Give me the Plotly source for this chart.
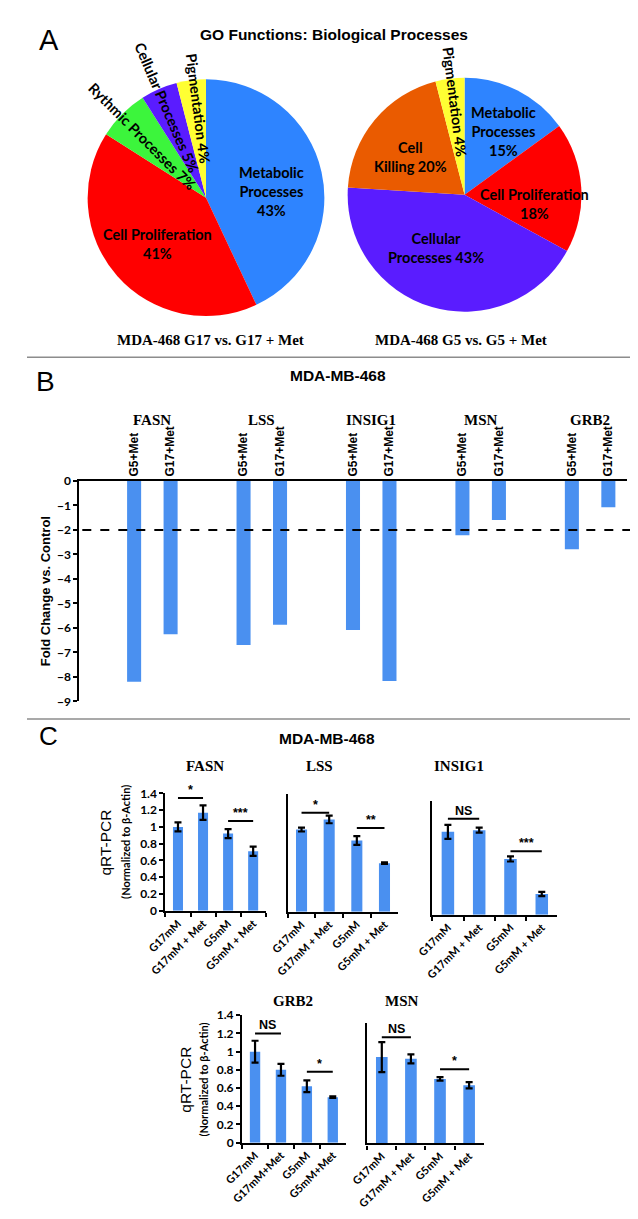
import math
import plotly.graph_objects as go

W, H = 638, 1219

# ---------------- Data ----------------
# Panel A: GO functions (percent)
pie_left_labels = ["Metabolic Processes", "Cell Proliferation", "Rythmic Processes",
                   "Cellular Processes", "Pigmentation"]
pie_left_values = [43, 41, 7, 5, 4]
pie_left_text = ["Metabolic<br>Processes<br>{}%", "Cell Proliferation<br>{}%",
                 "Rythmic Processes {}%", "Cellular Processes {}%", "Pigmentation {}%"]

pie_right_labels = ["Metabolic Processes", "Cell Proliferation", "Cellular Processes",
                    "Cell Killing", "Pigmentation"]
pie_right_values = [15, 18, 43, 20, 4]
pie_right_text = ["Metabolic<br>Processes<br>{}%", "Cell Proliferation<br>{}%",
                  "Cellular<br>Processes {}%", "Cell<br>Killing {}%", "Pigmentation {}%"]

pie_left_caption = "MDA-468 G17 vs. G17 + Met"
pie_right_caption = "MDA-468 G5 vs. G5 + Met"

# Panel B: fold change vs control
genes_b = ["FASN", "LSS", "INSIG1", "MSN", "GRB2"]
conds_b = ["G5+Met", "G17+Met"]
fold_g5 = [-8.20, -6.70, -6.08, -2.22, -2.79]
fold_g17 = [-6.26, -5.87, -8.16, -1.60, -1.07]
threshold_b = -2

# Panel C: qRT-PCR (normalized to beta-actin)
cats_c = ["G17mM", "G17mM + Met", "G5mM", "G5mM + Met"]
cats_c_grb2 = ["G17mM", "G17mM+Met", "G5mM", "G5mM+Met"]
fasn_mean = [1.00, 1.17, 0.92, 0.71]
fasn_err = [0.053, 0.087, 0.053, 0.055]
lss_mean = [0.98, 1.10, 0.85, 0.58]
lss_err = [0.023, 0.045, 0.053, 0.010]
insig1_mean = [0.98, 1.00, 0.66, 0.245]
insig1_err = [0.083, 0.030, 0.030, 0.025]
grb2_mean = [1.00, 0.80, 0.62, 0.50]
grb2_err = [0.12, 0.065, 0.065, 0.008]
msn_mean = [0.95, 0.93, 0.71, 0.64]
msn_err = [0.165, 0.05, 0.02, 0.035]

# significance: (bar i, bar j, level, label)
fasn_sig = [(0, 1, 1.345, "*"), (2, 3, 1.07, "***")]
lss_sig = [(0, 1, 1.18, "*"), (2, 3, 1.00, "**")]
insig1_sig = [(0, 1, 1.135, "NS"), (2, 3, 0.75, "***")]
grb2_sig = [(0, 1, 1.20, "NS"), (2, 3, 0.78, "*")]
msn_sig = [(0, 1, 1.167, "NS"), (2, 3, 0.817, "*")]

# ---------------- Styles ----------------
ARIAL = "Liberation Sans, Arial, sans-serif"
TIMES = "Liberation Serif, Times New Roman, serif"
CALIBRI = "Lato, Carlito, Calibri, sans-serif"
BAR = "#4A90F0"
slice_colors = {"Metabolic Processes": "#2E84FF", "Cell Proliferation": "#FF0000",
                "Rythmic Processes": "#3CF53C", "Cellular Processes": "#5A1CFF",
                "Pigmentation": "#FFFF33", "Cell Killing": "#EA5B00"}
# label placement per slice: (radial fraction, angular nudge in degrees)
left_label_place = [(0.556, 7.5), (0.56, -2.1), (0.74, -1.6), (0.82, -0.4), (0.74, 1.8)]
right_label_place = [(0.625, 4.8), (0.60, 10.7), (0.51, 12.6), (0.56, -5.1), (0.78, 1.1)]


def px(x):
    return x / W


def py(y):
    return 1 - y / H


def ann(text, x, y, size, family, bold=False, angle=0, xanchor="center", yanchor="middle"):
    return dict(text=text, x=px(x), y=py(y), xref="paper", yref="paper", showarrow=False,
                font=dict(size=size, family=family, color="black",
                          weight="bold" if bold else "normal"),
                textangle=angle, xanchor=xanchor, yanchor=yanchor)


fig = go.Figure()
annotations = []
shapes = []

# ---------------- Panel A ----------------
pies = [
    (pie_left_labels, pie_left_values, pie_left_text, left_label_place, (184.5, 184.0, 122.0)),
    (pie_right_labels, pie_right_values, pie_right_text, right_label_place, (451.0, 181.0, 120.5)),
]
for labels, values, texts, places, (cx, cy, R) in pies:
    fig.add_trace(go.Pie(
        labels=labels, values=values, sort=False, direction="clockwise", rotation=0,
        textinfo="none", hoverinfo="label+percent", showlegend=False,
        marker=dict(colors=[slice_colors[l] for l in labels], line=dict(width=0)),
        domain=dict(x=[px(cx - R), px(cx + R)], y=[py(cy + R), py(cy - R)]),
    ))
    total = sum(values)
    cum = 0
    for v, t, (frac, nudge) in zip(values, texts, places):
        mid = (cum + v / 2) / total * 360.0
        cum += v
        rad = math.radians(mid + nudge)
        ang = 90 + (mid - 360 if mid > 180 else mid) if v < 10 else 0
        lx = cx + frac * R * math.sin(rad)
        ly = cy - frac * R * math.cos(rad)
        annotations.append(ann(t.format(v), lx, ly, 14.5, CALIBRI, bold=True, angle=ang))

annotations.append(ann("A", 23, 24, 29, ARIAL))
annotations.append(ann("GO Functions: Biological Processes", 316.5, 19, 15.5, ARIAL, bold=True))
annotations.append(ann(pie_left_caption, 189, 328, 15, TIMES, bold=True))
annotations.append(ann(pie_right_caption, 447.5, 328, 15, TIMES, bold=True))

# separators
for ysep in (345.5, 711.7):
    shapes.append(dict(type="line", xref="paper", yref="paper", x0=0, x1=1,
                       y0=py(ysep), y1=py(ysep), line=dict(color="#8c8c8c", width=1.5)))

# ---------------- Panel B ----------------
xb_g5 = [3 * i + 1 for i in range(len(genes_b))]
xb_g17 = [3 * i + 2 for i in range(len(genes_b))]
for xs, ys, name in ((xb_g5, fold_g5, conds_b[0]), (xb_g17, fold_g17, conds_b[1])):
    fig.add_trace(go.Bar(x=xs, y=ys, name=name, width=0.385, marker=dict(color=BAR, line=dict(width=0)),
                         xaxis="x", yaxis="y", showlegend=False))

layout_axes = {}
layout_axes["xaxis"] = dict(domain=[px(54), px(618)], anchor="y", side="top", range=[-0.5, 14.5],
                            showline=True, linecolor="black", linewidth=2, ticks="",
                            tickvals=xb_g5 + xb_g17,
                            ticktext=[conds_b[0]] * len(genes_b) + [conds_b[1]] * len(genes_b),
                            tickangle=-90, tickfont=dict(family=ARIAL, size=12, color="black", weight="bold"),
                            showgrid=False, zeroline=False, fixedrange=True)
layout_axes["yaxis"] = dict(domain=[py(694), py(470.7)], anchor="x", range=[-9, 0], dtick=1,
                            showline=True, linecolor="black", linewidth=2, ticks="outside", ticklen=4,
                            tickwidth=2, tickcolor="black",
                            tickfont=dict(family=CALIBRI, size=12, color="black", weight="bold"),
                            showgrid=False, zeroline=False, fixedrange=True)
shapes.append(dict(type="line", xref="paper", yref="y", x0=px(57), x1=px(626),
                   y0=threshold_b, y1=threshold_b, line=dict(color="black", width=2, dash="dash")))
for i, g in enumerate(genes_b):
    annotations.append(dict(text=g, x=3 * i + 1.5, y=py(399), xref="x", yref="paper", showarrow=False,
                            font=dict(family=TIMES, size=15, color="black", weight="bold")))
annotations.append(ann("B", 19.5, 370, 28, ARIAL))
annotations.append(ann("MDA-MB-468", 321, 364, 15.5, ARIAL, bold=True))
annotations.append(ann("Fold Change vs. Control", 18.5, 582.5, 13, ARIAL, bold=True, angle=-90))

# ---------------- Panel C ----------------
annotations.append(ann("C", 22.5, 729, 26, ARIAL))
annotations.append(ann("MDA-MB-468", 309, 731, 15.5, ARIAL, bold=True))

charts_c = [
    ("FASN", cats_c, fasn_mean, fasn_err, fasn_sig, (142.7, 246.0, 787.0, 906.0), 1.4, True, (183.3, 759)),
    ("LSS", cats_c, lss_mean, lss_err, lss_sig, (268.7, 382.7, 788.0, 907.0), 1.4, False, (301.0, 759)),
    ("INSIG1", cats_c, insig1_mean, insig1_err, insig1_sig, (417.7, 546.7, 794.3, 910.0), 1.35, False, (445.3, 759)),
    ("GRB2", cats_c_grb2, grb2_mean, grb2_err, grb2_sig, (221.7, 328.5, 1011.7, 1140.7), 1.4, True, (274.5, 997)),
    ("MSN", cats_c, msn_mean, msn_err, msn_sig, (350.7, 470.7, 1019.3, 1141.5), 1.327, False, (387.0, 997)),
]
for k, (gene, cats, mean, err, sig, (x0, x1, ytop, ybot), ymax, yticks, (tx, ty)) in enumerate(charts_c):
    n = k + 2
    xa, ya = f"x{n}", f"y{n}"
    fig.add_trace(go.Bar(x=cats, y=mean, width=0.4, marker=dict(color=BAR, line=dict(width=0)),
                         error_y=dict(type="data", array=err, visible=True, color="black",
                                      thickness=2.2, width=3.5),
                         xaxis=xa, yaxis=ya, showlegend=False, name=gene))
    layout_axes[f"xaxis{n}"] = dict(domain=[px(x0), px(x1)], anchor=ya, type="category",
                                    range=[-0.5, 3.5], showline=True, linecolor="black", linewidth=2.2,
                                    ticks="outside", tickson="boundaries", ticklen=4, tickwidth=2,
                                    tickcolor="black", tickangle=-45,
                                    tickfont=dict(family=CALIBRI, size=11, color="black", weight="bold"),
                                    showgrid=False, zeroline=False, fixedrange=True)
    ydict = dict(domain=[py(ybot), py(ytop)], anchor=xa, range=[0, ymax], showline=True,
                 linecolor="black", linewidth=2.2, showgrid=False, zeroline=False, fixedrange=True)
    if yticks:
        ydict.update(dtick=0.2, ticks="outside", ticklen=4, tickwidth=2, tickcolor="black",
                     tickfont=dict(family=CALIBRI, size=12, color="black", weight="bold"))
    else:
        ydict.update(ticks="", showticklabels=False)
    layout_axes[f"yaxis{n}"] = ydict
    annotations.append(ann(gene, tx, ty, 15, TIMES, bold=True))
    for (i, j, lev, lab) in sig:
        shapes.append(dict(type="line", xref=xa, yref=ya, x0=i, x1=j, y0=lev, y1=lev,
                           line=dict(color="black", width=2)))
        annotations.append(dict(text=lab, x=(i + j) / 2, y=lev, xref=xa, yref=ya, showarrow=False,
                                yanchor="bottom", yshift=-1,
                                font=dict(family=ARIAL, size=12.5, color="black", weight="bold")))

for (qx, nx, cyy) in ((80.8, 101.7, 836.5), (163.3, 181.7, 1076.5)):
    annotations.append(ann("qRT-PCR", qx, cyy, 15.5, ARIAL, angle=-90))
    annotations.append(ann("(Normalized to β-Actin)", nx, cyy, 11, CALIBRI, bold=True, angle=-90))

fig.update_layout(
    width=W, height=H, autosize=False, margin=dict(l=0, r=0, t=0, b=0),
    paper_bgcolor="white", plot_bgcolor="white", barmode="overlay", hovermode=False,
    annotations=annotations, shapes=shapes, showlegend=False,
    **layout_axes,
)

fig.write_html("out.html")
